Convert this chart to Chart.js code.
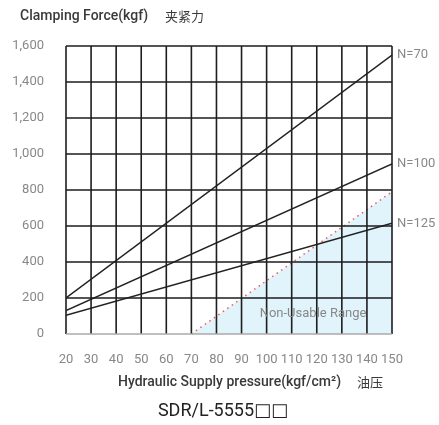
<!DOCTYPE html>
<html>
<head>
<meta charset="utf-8">
<script src="https://cdn.jsdelivr.net/npm/chart.js@4"></script>
<style>
  html, body { margin: 0; padding: 0; background: #fff; overflow: hidden; }
  #wrap { width: 439px; height: 425px; overflow: hidden; }
  canvas { display: block; }
</style>
</head>
<body>
<div id="wrap"><canvas id="force-chart" width="439" height="425"></canvas></div>
<script>
// data
const pressure = [20, 150];
const n70 = [200, 1550];
const n100 = [130, 945];
const n125 = [104, 615];
const limitPressure = [70, 150];
const limitForce = [0, 790];
const lineLabels = ["N=70", "N=100", "N=125"];
const yRange = [0, 1600, 200];
const xRange = [20, 150, 10];

const fontName = "Roboto, 'DejaVu Sans', sans-serif";
const cjkFont = "'Noto Sans CJK SC', sans-serif";

function toPoints(xs, ys) {
  return xs.map((x, i) => ({ x: x, y: ys[i] }));
}

// grid drawn over the fill, one full stroke per tick
const gridPlugin = {
  id: "fullGrid",
  afterDatasetsDraw(chart) {
    const ctx = chart.ctx;
    const xs = chart.scales.x;
    const ys = chart.scales.y;
    const a = chart.chartArea;
    ctx.save();
    ctx.strokeStyle = "#1e1e1e";
    ctx.lineWidth = 1.6;
    ctx.setLineDash([]);
    ctx.beginPath();
    xs.ticks.forEach((t) => {
      const px = xs.getPixelForValue(t.value);
      ctx.moveTo(px, a.top);
      ctx.lineTo(px, a.bottom);
    });
    ys.ticks.forEach((t) => {
      if (t.value === yRange[0]) return;
      const py = ys.getPixelForValue(t.value);
      ctx.moveTo(a.left, py);
      ctx.lineTo(a.right, py);
    });
    ctx.stroke();
    // bottom axis line is lighter
    ctx.strokeStyle = "#aaa";
    ctx.beginPath();
    const py0 = ys.getPixelForValue(yRange[0]);
    ctx.moveTo(a.left, py0);
    ctx.lineTo(a.right, py0);
    ctx.stroke();
    ctx.restore();
  },
};

// texts around the plot
const textPlugin = {
  id: "texts",
  afterDraw(chart) {
    const ctx = chart.ctx;
    const xs = chart.scales.x;
    const ys = chart.scales.y;
    ctx.save();
    ctx.textBaseline = "middle";

    // y title
    ctx.fillStyle = "#3a3a3a";
    ctx.font = "500 14px " + fontName;
    ctx.textAlign = "left";
    ctx.fillText("Clamping Force(kgf)", 20, 16);
    ctx.font = "13px " + cjkFont;
    ctx.fillText("夹紧力", 165, 16);

    // line end labels
    ctx.fillStyle = "#888";
    ctx.font = "13px " + fontName;
    const ends = [n70[1], n100[1], n125[1]];
    lineLabels.forEach((t, i) => {
      ctx.fillText(t, xs.right + 5, ys.getPixelForValue(ends[i]));
    });

    // non usable range
    ctx.textAlign = "center";
    ctx.fillText("Non-Usable Range", xs.getPixelForValue(118.5), ys.getPixelForValue(115));

    // x title
    ctx.fillStyle = "#3a3a3a";
    ctx.font = "500 14px " + fontName;
    ctx.textAlign = "left";
    ctx.fillText("Hydraulic Supply pressure(kgf/cm²)", 118, 382);
    ctx.font = "13px " + cjkFont;
    ctx.fillText("油压", 357, 382);

    // model name
    ctx.fillStyle = "#222";
    ctx.font = "18px " + fontName;
    ctx.textAlign = "center";
    ctx.fillText("SDR/L-5555□□", 223, 411);
    ctx.restore();
  },
};

const lineStyle = {
  borderColor: "#222",
  borderWidth: 1.5,
  pointRadius: 0,
  fill: false,
};

new Chart(document.getElementById("force-chart"), {
  type: "line",
  data: {
    datasets: [
      Object.assign({ label: "N=70", data: toPoints(pressure, n70) }, lineStyle),
      Object.assign({ label: "N=100", data: toPoints(pressure, n100) }, lineStyle),
      Object.assign({ label: "N=125", data: toPoints(pressure, n125) }, lineStyle),
      {
        label: "Non-Usable Range",
        data: toPoints(limitPressure, limitForce),
        borderColor: "#f05a5a",
        borderWidth: 1.5,
        borderDash: [1.5, 4],
        backgroundColor: "#e1f3fb",
        pointRadius: 0,
        fill: "origin",
        order: 5,
      },
    ],
  },
  options: {
    responsive: false,
    animation: false,
    layout: { padding: { top: 46, right: 47, left: 0, bottom: 51 } },
    plugins: {
      legend: { display: false },
      tooltip: { enabled: false },
    },
    scales: {
      x: {
        type: "linear",
        min: xRange[0],
        max: xRange[1],
        afterFit: (scale) => { scale.height = 40; },
        grid: { display: false },
        border: { display: false },
        ticks: {
          stepSize: xRange[2],
          color: "#888",
          font: { family: fontName, size: 13 },
          padding: 10,
          maxRotation: 0,
          autoSkip: false,
        },
      },
      y: {
        min: yRange[0],
        max: yRange[1],
        afterFit: (scale) => { scale.width = 66; },
        grid: { display: false },
        border: { display: false },
        ticks: {
          stepSize: yRange[2],
          color: "#888",
          font: { family: fontName, size: 13 },
          padding: 14,
          callback: (v) => v.toLocaleString("en-US"),
        },
      },
    },
  },
  plugins: [gridPlugin, textPlugin],
});
</script>
</body>
</html>
